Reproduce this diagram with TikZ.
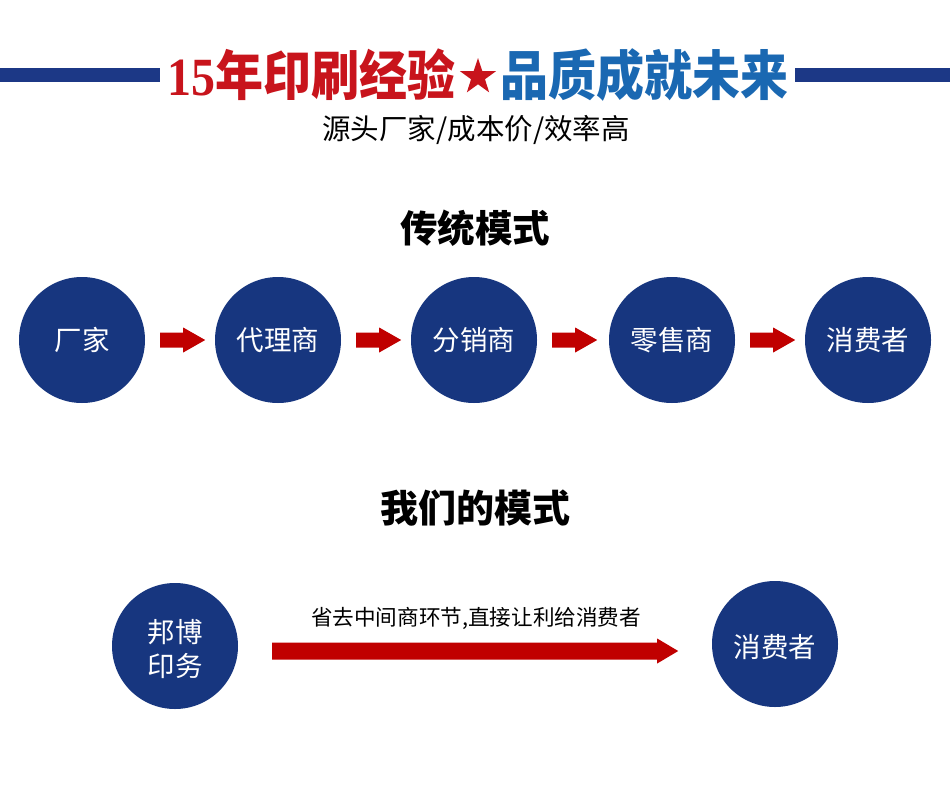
\documentclass[tikz,border=0pt]{standalone}
\usepackage{fontspec}
\setmainfont{Noto Sans CJK SC}
\newfontfamily\cjk{Noto Sans CJK SC}
\newfontfamily\digserif{Liberation Serif}
\usetikzlibrary{shapes.geometric,calc}
\definecolor{navy}{HTML}{17367F}
\definecolor{arrowred}{HTML}{C00000}
\definecolor{titlered}{HTML}{C8141C}
\definecolor{titleblue}{HTML}{1A68B2}
\definecolor{barblue}{HTML}{1C3886}
\tikzset{
  circ/.style={circle,fill=navy,minimum size=126pt,inner sep=0pt,text=white,font=\cjk\fontsize{27.5}{33}\selectfont,align=center},
  section/.style={font=\cjk\bfseries\fontsize{37.5}{40}\selectfont,text=black},
}
% #1 start, #2 length, #3 shaft half height, #4 head half height, #5 head length
\newcommand\fatarr[5]{\fill[arrowred] (#1) ++(0,-#3) -- ++({#2-#5},0) -- ++(0,{#3-#4}) -- ++(#5,#4) -- ++(-#5,#4) -- ++(0,{#3-#4}) -- ++({-(#2-#5)},0) -- cycle;}
\begin{document}
\begin{tikzpicture}[x=1pt,y=-1pt]
\useasboundingbox (0,0) rectangle (950,795);
\fill[white] (0,0) rectangle (950,795);
% top bars
\fill[barblue] (0,68) rectangle (160,82);
\fill[barblue] (795,68) rectangle (950,82);
% title
\node[anchor=east,inner sep=0pt,yscale=1.12,text=titlered,font=\fontsize{48}{52}\selectfont] (tred) at (456,75) {{\digserif\bfseries 15}{\cjk\bfseries 年印刷经验}};
\node[star,star points=5,star point ratio=2.6,fill=titlered,minimum size=38pt,inner sep=0pt] (star) at (478,77) {};
\node[anchor=west,inner sep=0pt,yscale=1.12,text=titleblue,font=\cjk\bfseries\fontsize{48}{52}\selectfont] (tblue) at (500,75) {品质成就未来};
\node[font=\cjk\fontsize{28.5}{30}\selectfont] (sub) at (476,130) {源头厂家/成本价/效率高};
% traditional
\node[section] (h1) at (475,228) {传统模式};
\node[circ] (c1) at (82,340) {厂家};
\node[circ] (c2) at (278,340) {代理商};
\node[circ] (c3) at (474,340) {分销商};
\node[circ] (c4) at (672,340) {零售商};
\node[circ] (c5) at (868,340) {消费者};
\foreach \a in {c1,c2,c3,c4}{
  \coordinate (s-\a) at ($(\a.east)+(15,0)$);
  \fatarr{s-\a}{45}{7.5}{12.5}{22}
}
% our model
\node[font=\cjk\bfseries\fontsize{38}{40}\selectfont] (h2) at (475,508) {我们的模式};
\node[circ] (d1) at (175,646) {};
\node[font=\cjk\fontsize{27.5}{33}\selectfont,text=white,align=center] (d1t) at (175,649) {邦博\\印务};
\node[circ] (d2) at (775,644) {};
\node[font=\cjk\fontsize{27.5}{33}\selectfont,text=white] (d2t) at (775,647) {消费者};
\coordinate (bs) at ($(d1.east)+(34,5)$);
\fatarr{bs}{406}{8.5}{12.5}{21}
\node[font=\cjk\fontsize{21.6}{24}\selectfont] (note) at (476,618) {省去中间商环节,直接让利给消费者};
\end{tikzpicture}
\end{document}
